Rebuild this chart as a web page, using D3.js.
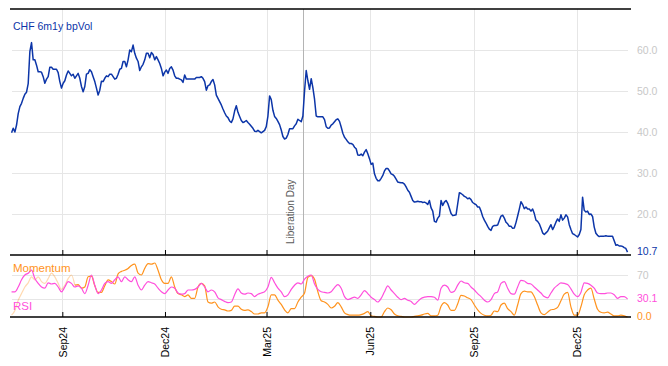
<!DOCTYPE html>
<html>
<head>
<meta charset="utf-8">
<script src="https://cdn.jsdelivr.net/npm/d3@7"></script>
<style>
  body { margin: 0; background: #fff; }
  svg text { font-family: "Liberation Sans", Arial, sans-serif; }
</style>
</head>
<body>
<div id="chart"></div>
<script>
// sampled series run evenly from firstDay to lastDay
const firstDay = new Date(2024, 6, 18),
    lastDay = new Date(2026, 0, 15);

const tickDates = [new Date(2024, 8, 1), new Date(2024, 11, 1), new Date(2025, 2, 1),
    new Date(2025, 5, 1), new Date(2025, 8, 1), new Date(2025, 11, 1)];
const liberationDay = new Date(2025, 3, 2);

const volTicks = [20, 30, 40, 50, 60];
const oscTicks = [70];
const oscGrid = [30, 70];

// CHF 6m1y bp vol, Jul24 - Jan25
const volA = [39.8, 40.9, 40, 41.7, 44.5, 46.2, 47, 48.2, 49.2, 49.7,
    51.8, 59.6, 61.8, 57.6, 57.6, 56.3, 54.7, 54.7, 54.6, 53.5,
    51.9, 52.9, 53.5, 55.8, 55.8, 55.3, 55.3, 55.3, 54.5, 52.3,
    50.7, 51.9, 52.5, 53.9, 54.9, 54.3, 53.7, 54.1, 53.1, 53.7,
    54.3, 53.1, 51.1, 49.8, 51.1, 54.1, 54.3, 55.2, 54.7, 53.5,
    52.3, 50.7, 49, 50.2, 52.4, 52.3, 53.1, 53.7, 53.5, 54.1,
    54.1, 53.5, 52.9, 53.1, 54.1, 55.3, 55.5, 57.2, 57.2, 55.9,
    57.6, 60, 59.6, 61.2, 59.2, 58, 57.2, 55, 55.9, 56.5,
    57.6, 59.2, 59.2, 58.1, 59.4, 58.9, 57.6, 58.4, 57.6, 56.7,
    55.5, 53.7, 54.6, 55.1, 54.3, 55.5, 55.9, 55.1, 53.7, 53.1,
    53.1, 52.9, 52.7, 52.1, 53.9, 52.9, 52.9, 52.9, 52.9, 52.9,
    52.9, 53.3, 53.3, 53.3, 53.5, 53.1, 52.3, 50.2, 51.3, 51.5,
    52.3, 52.8, 51.5, 49, 48.2, 47.4, 46.6, 45.6];
// Jan25 - Jul25
const volB = [44.7, 43.9, 43.5, 42.7, 42.3, 43.2, 45.1, 46.4, 44.8, 43.8,
    42.8, 42.3, 42.5, 42.8, 42.3, 41.9, 41.4, 40.9, 40.2, 40.1,
    40.4, 40.1, 39.8, 40.1, 40.4, 41.3, 43.9, 48.8, 47.9, 45.3,
    43.8, 43.3, 42.6, 41.8, 40.5, 38.9, 38.3, 38.5, 39.4, 40.8,
    40.8, 40.8, 41.5, 42, 43.1, 42.8, 42.5, 43.9, 50, 55,
    52.5, 50.4, 53, 50.8, 48, 43.9, 43.7, 43.7, 43.7, 43.7,
    43, 41.3, 40.9, 41, 41.7, 42, 42.5, 43, 43.2, 42.6,
    41.2, 39.7, 38.7, 38.2, 37.6, 37.2, 37.2, 37, 36.3, 35.9,
    34.4, 34.3, 34.6, 34.2, 35.1, 35.7, 34.7, 33.5, 32.1, 32.4,
    29.8, 28.7, 28.1, 28.1, 28.7, 29.4, 30.5, 31.1, 31.1, 30.5,
    29.8, 29.6, 29.2, 28.5, 27.8, 27.7, 27.6, 27.6, 27.3, 26.6,
    25.8, 25.3, 24.3, 23.3, 22.9, 23, 23.1, 23, 23, 22.8,
    22.9, 22.7, 22.3];
// Jul25 - Jan26
const volC = [23.3, 21.5, 20.7, 18.2, 18, 19, 19.5, 23.3, 22.1, 22.9,
    23.3, 22.6, 21.4, 20.1, 19.6, 19.7, 19.8, 22.5, 25.2, 25,
    24.7, 24.3, 24.1, 23.7, 23.9, 23.5, 22.8, 22.5, 22.3, 21.7,
    21.7, 20.7, 19.4, 18.5, 17.8, 17, 16.3, 16, 17, 17.2,
    17.2, 17.3, 18.4, 19.5, 19.7, 19, 18, 17.6, 17, 17,
    16.5, 16.6, 17.9, 19.5, 21.2, 23, 22.3, 21.3, 21.7, 21.2,
    21.2, 20.7, 21.2, 20.1, 18.5, 18.2, 17.6, 16.6, 15.4, 15,
    15.4, 15.8, 16.6, 17.4, 16.2, 17, 18, 18.8, 18.2, 19.8,
    18.5, 19, 19.8, 19.3, 17.4, 16.2, 15.2, 15, 14.7, 14.4,
    15, 16.2, 24.1, 20.9, 20.5, 20.7, 19.9, 20, 19.4, 16.8,
    15.3, 14.8, 14.5, 14.6, 14.6, 14.6, 14.7, 14.6, 14.6, 14.6,
    14.6, 13.5, 12.4, 12.5, 12.2, 12.2, 12.1, 11.8, 11.6, 10.7];

const momentum = [3, 11, 28, 39, 50, 57, 67, 62, 67, 59,
    56, 64, 73, 67, 56, 46, 53, 64, 70, 53,
    54, 48, 50, 67, 68, 52, 41, 41, 52, 62,
    59, 55, 72, 76, 78, 81, 86, 88, 73, 70,
    81, 89, 88, 90, 78, 62, 56, 56, 67, 50,
    39, 37, 34, 37, 31, 31, 50, 56, 52, 25,
    23, 25, 17,
    13, 12, 10, 11, 18, 18, 13, 11, 12, 9,
    5, 5, 7, 7, 17, 37, 37, 28, 21, 12,
    7, 14, 14, 25, 33, 40, 66, 69, 63, 42,
    27, 25, 21, 15, 18, 24, 17, 7, 4, 3,
    3, 3, 4, 6, 9, 2, 1, 0, 0, 9,
    15, 12, 5, 2, 1, 0, 0, 0, 1, 2,
    3, 5, 6, 2, 2, 3,
    18, 24, 20, 11, 11, 22, 36, 35, 32, 29,
    20, 12, 6, 3, 2, 3, 10, 9, 20, 23,
    14, 9, 3, 20, 39, 43, 42, 42, 34, 20,
    7, 4, 8, 12, 13, 16, 27, 38, 41, 17,
    3, 3, 17, 37, 45, 48, 30, 13, 8, 7,
    8, 5, 2, 2, 3, 2, 0];

const rsi = [42, 42, 50, 62, 70, 73, 78, 64, 56, 50,
    48, 57, 55, 56, 50, 42, 50, 59, 56, 50,
    52, 48, 39, 53, 70, 53, 39, 45, 56, 59,
    56, 62, 67, 59, 67, 62, 59, 67, 53, 45,
    53, 59, 57, 55, 48, 42, 39, 45, 50, 48,
    40, 38, 39, 45, 45, 46, 50, 56, 50, 42,
    45, 42, 32,
    29, 26, 24, 25, 37, 47, 40, 38, 40, 39,
    34, 38, 40, 42, 50, 66, 57, 48, 42, 34,
    37, 46, 53, 57, 55, 63, 68, 70, 55, 46,
    42, 41, 40, 42, 49, 54, 48, 34, 29, 31,
    33, 31, 37, 44, 39, 33, 29, 25, 31, 42,
    52, 45, 39, 33, 29, 31, 28, 26, 21, 26,
    31, 33, 34, 34, 33, 28,
    48, 53, 50, 41, 43, 53, 60, 57, 56, 50,
    45, 39, 34, 28, 25, 29, 39, 42, 56, 59,
    48, 39, 38, 50, 61, 60, 56, 55, 50, 45,
    40, 34, 32, 40, 48, 53, 57, 56, 54, 47,
    38, 34, 41, 57, 56, 53, 48, 40, 39, 39,
    40, 40, 37, 31, 34, 34, 30.1];

// momentum warm-up points are drawn faded
const momentumWarmup = 19;

const volColor = '#0c35a8',
    momColor = '#ff931e',
    rsiColor = '#ff4fdc',
    gridColor = '#e6e6e6',
    tickTextColor = '#c8c8c8';

const width = 668, height = 366,
    plotLeft = 10, plotRight = 631,
    gridLeft = 12, gridRight = 628,
    topY = 9, midY = 255, botY = 317;

const svg = d3.select('#chart').append('svg')
    .attr('width', width)
    .attr('height', height);

const x = d3.scaleTime()
    .domain([new Date(2024, 6, 16, 15), new Date(2026, 0, 18, 2)])
    .range([plotLeft, plotRight]);

const yVol = d3.scaleLinear().domain([10, 70]).range([midY, topY]);
const yOsc = d3.scaleLinear().domain([0, 100]).range([botY, midY + 2]);

function spread(n) {
    return d3.range(n).map(i => new Date(+firstDay + i * (lastDay - firstDay) / (n - 1)));
}

const vol = volA.concat(volB, volC);
const volData = d3.zip(spread(vol.length), vol);
const momData = d3.zip(spread(momentum.length), momentum);
const rsiData = d3.zip(spread(rsi.length), rsi);

// grid
const grid = svg.append('g').attr('stroke', gridColor).attr('stroke-width', 1);
grid.selectAll('.hv')
    .data(volTicks)
    .join('line')
    .attr('class', 'hv')
    .attr('x1', gridLeft).attr('x2', gridRight)
    .attr('y1', d => Math.round(yVol(d)) + 0.5).attr('y2', d => Math.round(yVol(d)) + 0.5);
grid.selectAll('.ho')
    .data(oscGrid)
    .join('line')
    .attr('class', 'ho')
    .attr('x1', gridLeft).attr('x2', gridRight)
    .attr('y1', d => Math.round(yOsc(d)) + 0.5).attr('y2', d => Math.round(yOsc(d)) + 0.5);
grid.selectAll('.vg')
    .data(tickDates)
    .join('line')
    .attr('class', 'vg')
    .attr('x1', d => Math.round(x(d)) + 0.5).attr('x2', d => Math.round(x(d)) + 0.5)
    .attr('y1', topY).attr('y2', botY);

// liberation day marker
svg.append('line')
    .attr('x1', Math.round(x(liberationDay)) + 0.5)
    .attr('x2', Math.round(x(liberationDay)) + 0.5)
    .attr('y1', topY).attr('y2', botY)
    .attr('stroke', '#b4b4b4')
    .attr('stroke-width', 1);

svg.append('text')
    .attr('transform', `translate(${x(liberationDay) - 9},${midY - 11}) rotate(-90)`)
    .attr('fill', '#5a5a5a')
    .style('font-size', '10px')
    .text('Liberation Day');

// series
const volLine = d3.line().x(d => x(d[0])).y(d => yVol(d[1]));
const oscLine = d3.line().x(d => x(d[0])).y(d => yOsc(d[1])).curve(d3.curveMonotoneX);

svg.append('path')
    .datum(momData.slice(0, momentumWarmup + 1))
    .attr('d', oscLine)
    .attr('fill', 'none')
    .attr('stroke', momColor)
    .attr('stroke-opacity', 0.35)
    .attr('stroke-width', 1.2);

svg.append('path')
    .datum(momData.slice(momentumWarmup))
    .attr('d', oscLine)
    .attr('fill', 'none')
    .attr('stroke', momColor)
    .attr('stroke-width', 1.2);

svg.append('path')
    .datum(rsiData)
    .attr('d', oscLine)
    .attr('fill', 'none')
    .attr('stroke', rsiColor)
    .attr('stroke-width', 1.2);

svg.append('path')
    .datum(volData)
    .attr('d', volLine)
    .attr('fill', 'none')
    .attr('stroke', volColor)
    .attr('stroke-width', 1.5)
    .attr('stroke-linejoin', 'round');

// frame lines
svg.selectAll('.frame')
    .data([topY, midY, botY])
    .join('line')
    .attr('class', 'frame')
    .attr('x1', plotLeft).attr('x2', plotRight)
    .attr('y1', d => d).attr('y2', d => d)
    .attr('stroke', '#000')
    .attr('stroke-width', 1.3);

// x axes, ticks pointing up into each panel
svg.append('g')
    .attr('transform', `translate(0,${midY})`)
    .call(d3.axisBottom(x).tickValues(tickDates).tickSize(-5).tickFormat(''))
    .call(g => g.select('.domain').remove());

const xAxis = svg.append('g')
    .attr('transform', `translate(0,${botY})`)
    .call(d3.axisBottom(x).tickValues(tickDates).tickSize(-5).tickFormat(d3.timeFormat('%b%y')))
    .call(g => g.select('.domain').remove());

xAxis.selectAll('text')
    .attr('transform', 'rotate(-90)')
    .attr('x', -10)
    .attr('y', 0)
    .attr('dy', '0.35em')
    .attr('fill', '#000')
    .style('text-anchor', 'end')
    .style('font-size', '10.5px');

// right axes
const volAxis = svg.append('g')
    .attr('transform', `translate(${plotRight},0)`)
    .call(d3.axisRight(yVol).tickValues(volTicks).tickSize(0).tickPadding(6).tickFormat(d3.format('.1f')))
    .call(g => g.select('.domain').remove());
volAxis.selectAll('text').attr('fill', tickTextColor).style('font-size', '10.5px');

const oscAxis = svg.append('g')
    .attr('transform', `translate(${plotRight},0)`)
    .call(d3.axisRight(yOsc).tickValues(oscTicks).tickSize(0).tickPadding(6))
    .call(g => g.select('.domain').remove());
oscAxis.selectAll('text').attr('fill', tickTextColor).style('font-size', '10.5px');

// last value labels
const lastLabels = [
    {v: vol[vol.length - 1], y: yVol(vol[vol.length - 1]), color: volColor},
    {v: rsi[rsi.length - 1], y: yOsc(rsi[rsi.length - 1]), color: rsiColor},
    {v: momentum[momentum.length - 1], y: yOsc(momentum[momentum.length - 1]), color: momColor}
];
svg.selectAll('.last')
    .data(lastLabels)
    .join('text')
    .attr('class', 'last')
    .attr('x', plotRight + 6)
    .attr('y', d => d.y)
    .attr('dy', '0.32em')
    .attr('fill', d => d.color)
    .style('font-size', '10.5px')
    .text(d => d3.format('.1f')(d.v));

// series names
svg.append('text')
    .attr('x', 13).attr('y', 29.5)
    .attr('fill', volColor)
    .style('font-size', '10.5px')
    .text('CHF 6m1y bpVol');

svg.append('text')
    .attr('x', 13).attr('y', 272)
    .attr('fill', momColor)
    .style('font-size', '11.5px')
    .text('Momentum');

svg.append('text')
    .attr('x', 13).attr('y', 310)
    .attr('fill', rsiColor)
    .style('font-size', '11.5px')
    .text('RSI');
</script>
</body>
</html>
